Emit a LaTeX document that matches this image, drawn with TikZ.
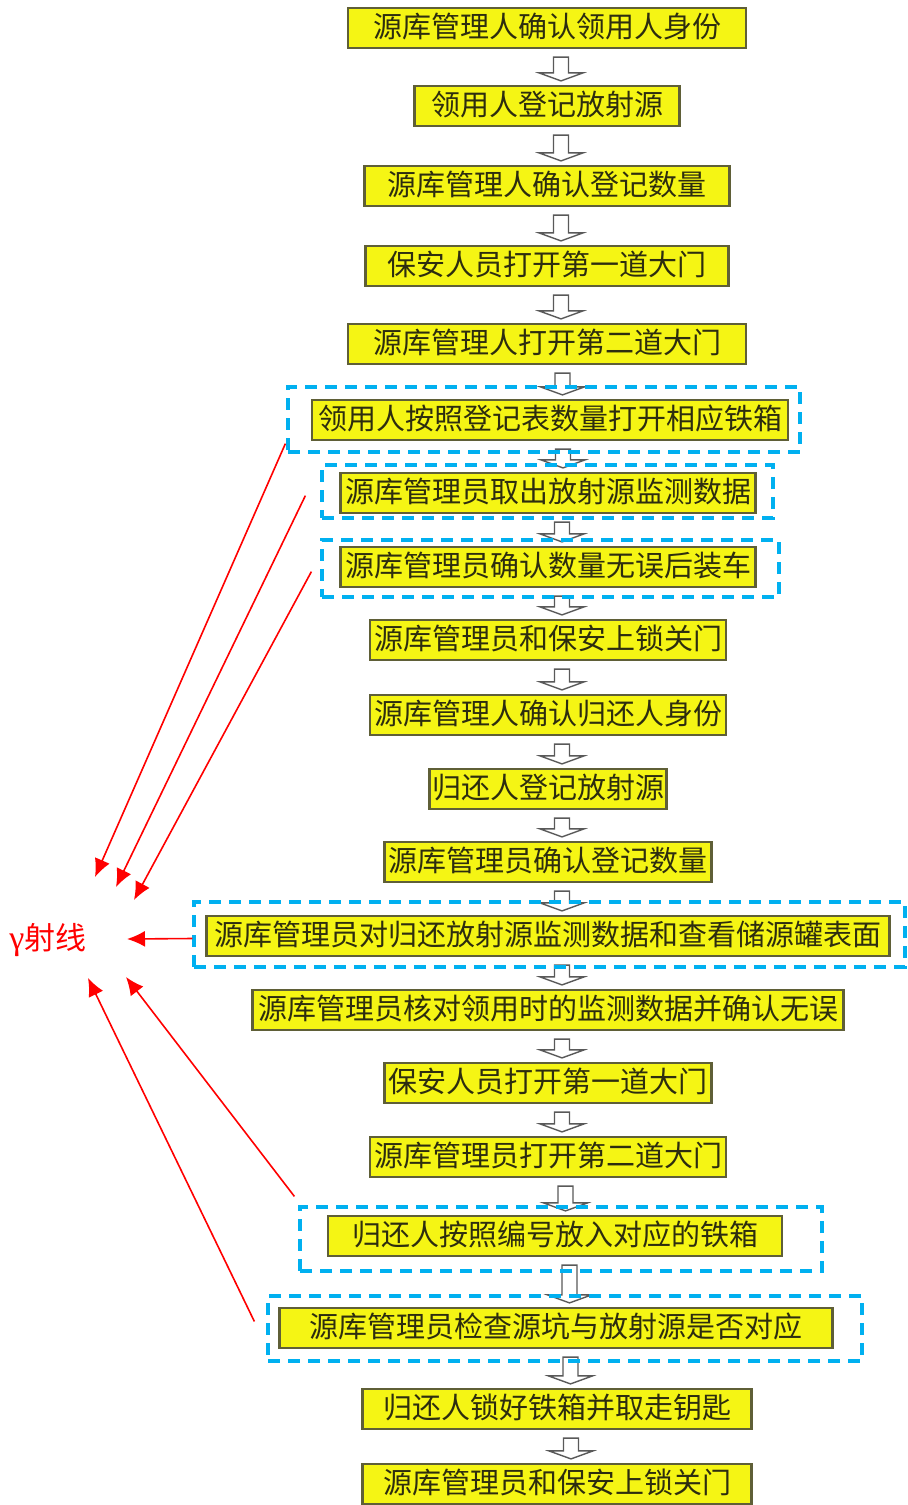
\documentclass[tikz,border=0pt]{standalone}
\usepackage{fontspec}
\usepackage{tikz}
\usetikzlibrary{calc,arrows.meta}
\newfontfamily\cjk{Noto Sans CJK SC}
\newfontfamily\lserif{Liberation Serif}
\definecolor{boxyellow}{RGB}{245,245,20}
\definecolor{boxedge}{RGB}{95,95,55}
\definecolor{boxtext}{RGB}{45,45,15}
\definecolor{dashblue}{RGB}{0,176,240}

\begin{document}
\begin{tikzpicture}[x=0.5pt,y=-0.5pt,
  stepbox/.style={draw=boxedge,fill=boxyellow,line width=1.1pt,text=boxtext,
    font=\cjk\fontsize{14.5pt}{15pt}\selectfont,inner xsep=1pt,inner ysep=0pt,
    text height=11.5pt,text depth=2.5pt,minimum height=20pt},
  dashbox/.style={draw=dashblue,line width=1.6pt,dash pattern=on 6pt off 4pt,inner sep=0pt},
  hollow/.style={draw=black!65,fill=white,line width=0.7pt},
  ray/.style={red,line width=0.8pt,-{Latex[length=9pt,width=8pt]}}]

\useasboundingbox (0,0) rectangle (908,1505);

% flow boxes
\foreach \n/\x/\y/\w/\t in {1/547/28/199/源库管理人确认领用人身份,
    2/547/106/132.5/领用人登记放射源,
    3/547/186/182.5/源库管理人确认登记数量,
    4/547/266/181.5/保安人员打开第一道大门,
    5/547/344/199/源库管理人打开第二道大门,
    6/550/420/238/领用人按照登记表数量打开相应铁箱,
    7/548/493/207.5/源库管理员取出放射源监测数据,
    8/548/567/207.5/源库管理员确认数量无误后装车,
    9/548/640/178/源库管理员和保安上锁关门,
    10/548/715/178/源库管理人确认归还人身份,
    11/548/789/118.5/归还人登记放射源,
    12/548/862/163.5/源库管理员确认登记数量,
    13/548/936/341.5/源库管理员对归还放射源监测数据和查看储源罐表面,
    14/548/1010/295.5/源库管理员核对领用时的监测数据并确认无误,
    15/548/1083/163.5/保安人员打开第一道大门,
    16/548/1157/178/源库管理员打开第二道大门,
    17/555/1236/227/归还人按照编号放入对应的铁箱,
    18/556/1328/276.5/源库管理员检查源坑与放射源是否对应,
    19/557/1409/194.5/归还人锁好铁箱并取走钥匙,
    20/557/1484/194.5/源库管理员和保安上锁关门}
   \node[stepbox,minimum width=\w pt] (n\n) at (\x,\y) {\t};

% hollow arrows between the steps
\foreach \a/\b in {1/2,2/3,3/4,4/5,5/6,6/7,7/8,8/9,9/10,10/11,
    11/12,12/13,13/14,14/15,15/16,16/17,17/18,18/19,19/20}
   \draw[hollow] let \p1=(n\a.south), \p2=(n\b.north),
       \p3=($(n\a.south)!.5!(n\b.north)+(14,0)$) in
     (\x3-3.75pt,\y1-4pt) -- (\x3+3.75pt,\y1-4pt) -- (\x3+3.75pt,\y2+6pt)
     -- (\x3+11pt,\y2+6pt) -- (\x3,\y2+2pt) -- (\x3-11pt,\y2+6pt)
     -- (\x3-3.75pt,\y2+6pt) -- cycle;

% dashed frames
\node[dashbox,minimum width=256pt,minimum height=32.5pt] (d6) at (544,419.5) {};
\node[dashbox,minimum width=225.5pt,minimum height=26.5pt] (d7) at (547.5,491.5) {};
\node[dashbox,minimum width=228.5pt,minimum height=28.5pt] (d8) at (550.5,568.5) {};
\node[dashbox,minimum width=355.5pt,minimum height=32.5pt] (d13) at (549.5,934.5) {};
\node[dashbox,minimum width=261pt,minimum height=32pt] (d17) at (561,1239) {};
\node[dashbox,minimum width=297pt,minimum height=32.5pt] (d18) at (565,1328.5) {};

\node[text=red,font=\cjk\fontsize{15.5pt}{16pt}\selectfont,inner sep=0pt] (gam) at (48,940) {{\lserif\fontsize{17pt}{17pt}\selectfont γ}射线};

\draw[ray] ($(d6.south west)+(-1,-10)$) -- ($(gam)+(47,-63)$);
\draw[ray] ($(d7.south west)+(-15,-24)$) -- ($(gam)+(68,-53)$);
\draw[ray] ($(d8.south west)+(-9,-27)$) -- ($(gam)+(86,-40)$);
\draw[ray] ($(d13.west)+(0,4)$) -- ($(gam)+(79,-1)$);
\draw[ray] ($(d17.north west)+(-4,-9)$) -- ($(gam)+(78,37)$);
\draw[ray] ($(d18.west)+(-12,-7)$) -- ($(gam)+(40,38)$);

\end{tikzpicture}
\end{document}
